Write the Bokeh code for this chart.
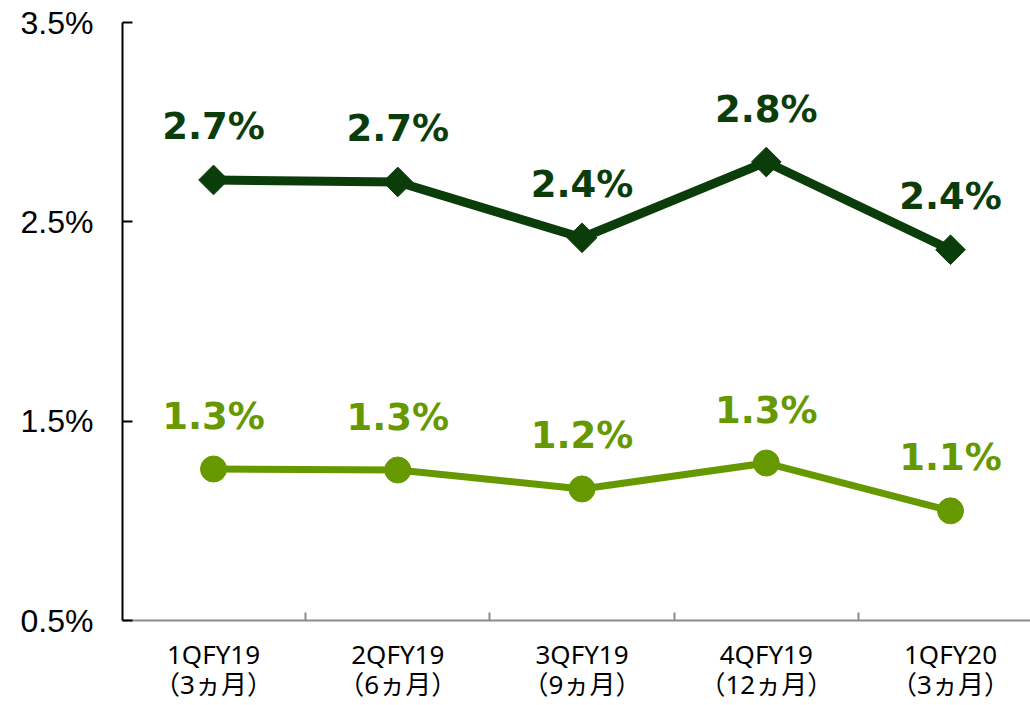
from bokeh.plotting import figure
from bokeh.models import Range1d, FixedTicker, PrintfTickFormatter, ColumnDataSource
from bokeh.embed import file_html
from bokeh.resources import INLINE
from bokeh.core.properties import value
import math

categories = ["1QFY19\n（3ヵ月）", "2QFY19\n（6ヵ月）", "3QFY19\n（9ヵ月）", "4QFY19\n（12ヵ月）", "1QFY20\n（3ヵ月）"]
series_dark = [2.71, 2.70, 2.42, 2.80, 2.36]
series_light = [1.26, 1.255, 1.16, 1.29, 1.05]
y_ticks = [0.5, 1.5, 2.5, 3.5]

DARK = "#0b3d0b"
LIGHT = "#669900"

xs = list(range(len(categories)))
src_d = ColumnDataSource(dict(x=xs, y=series_dark, t=[f"{v:.1f}%" for v in series_dark]))
src_l = ColumnDataSource(dict(x=xs, y=series_light, t=[f"{v:.1f}%" for v in series_light]))

p = figure(width=1030, height=705, output_backend="svg", toolbar_location=None,
           x_range=Range1d(-0.494, 4.434), y_range=Range1d(0.5, 3.5),
           min_border_left=122, min_border_right=0, min_border_top=22, min_border_bottom=85)
p.outline_line_color = None
p.xgrid.visible = False
p.ygrid.visible = False
p.background_fill_color = "white"
p.border_fill_color = "white"

# lines and markers
p.line("x", "y", source=src_d, line_color=DARK, line_width=9)
p.scatter("x", "y", source=src_d, marker="square", angle=math.pi / 4, size=21,
          fill_color=DARK, line_color=DARK)
p.line("x", "y", source=src_l, line_color=LIGHT, line_width=7)
p.scatter("x", "y", source=src_l, marker="circle", size=26, fill_color=LIGHT, line_color=LIGHT)

# data labels
p.text("x", "y", text="t", source=src_d, y_offset=-53, text_align="center", text_baseline="middle",
       text_font=value("DejaVu Sans"), text_font_style="bold", text_font_size="37px", text_color=DARK)
p.text("x", "y", text="t", source=src_l, y_offset=-53, text_align="center", text_baseline="middle",
       text_font=value("DejaVu Sans"), text_font_style="bold", text_font_size="37px", text_color=LIGHT)

# y axis
ya = p.yaxis[0]
ya.ticker = FixedTicker(ticks=y_ticks)
ya.formatter = PrintfTickFormatter(format="%.1f%%")
ya.axis_line_color = "black"
ya.axis_line_width = 2
ya.major_tick_in = 10
ya.major_tick_out = 0
ya.major_tick_line_color = "black"
ya.major_tick_line_width = 2
ya.minor_tick_line_color = None
ya.major_label_text_font = "Liberation Sans"
ya.major_label_text_font_size = "32px"
ya.major_label_text_color = "black"
ya.major_label_standoff = 29

# x axis
xa = p.xaxis[0]
xa.ticker = FixedTicker(ticks=xs, minor_ticks=[0.5, 1.5, 2.5, 3.5])
xa.major_label_overrides = {i: c for i, c in enumerate(categories)}
xa.axis_line_color = "#8c8c8c"
xa.axis_line_width = 2
xa.major_tick_line_color = None
xa.major_tick_in = 0
xa.major_tick_out = 0
xa.minor_tick_in = 8
xa.minor_tick_out = 0
xa.minor_tick_line_color = "#8c8c8c"
xa.minor_tick_line_width = 2
xa.major_label_text_font = "Noto Sans, Noto Sans CJK JP"
xa.major_label_text_font_size = "26px"
xa.major_label_text_color = "black"
xa.major_label_text_line_height = 0.84
xa.major_label_standoff = 15

open("out.html", "w").write(file_html(p, INLINE))
